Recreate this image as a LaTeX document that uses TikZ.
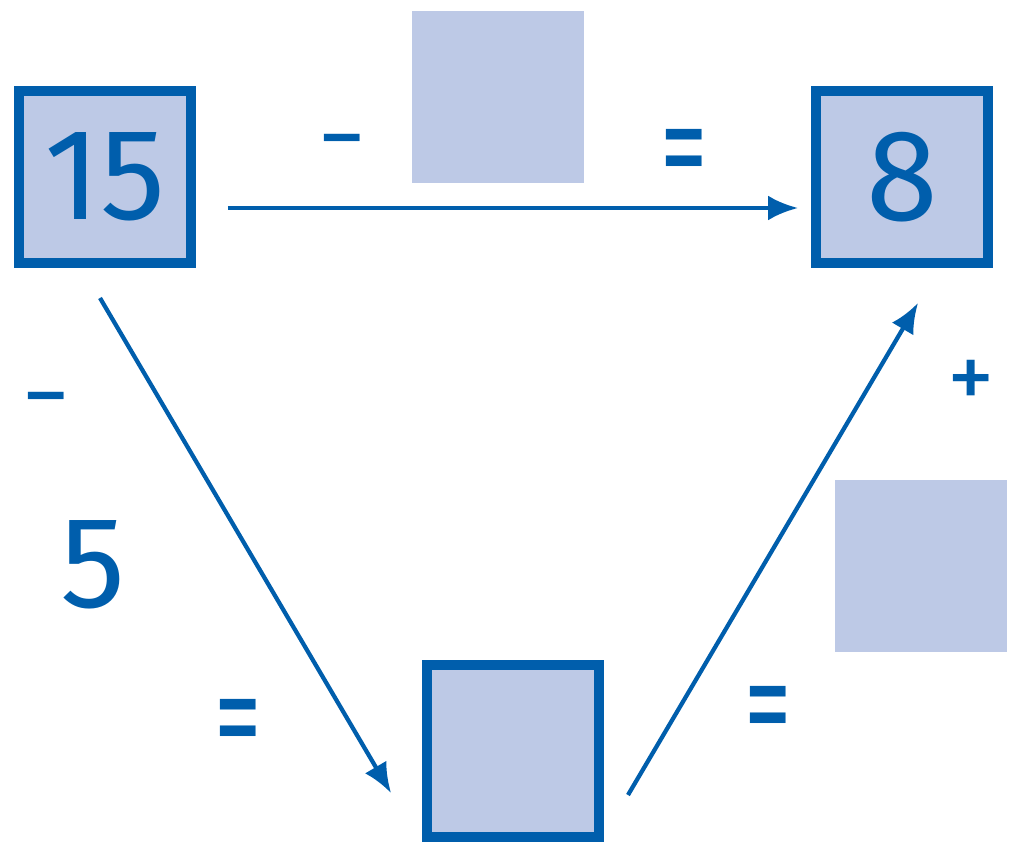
\documentclass[tikz,border=0pt]{standalone}
\usepackage{fontspec}
\setmainfont{Fira Sans}
\usepackage{xcolor}
\usepackage{graphicx}
\usetikzlibrary{arrows.meta}
\definecolor{strokeblue}{RGB}{0,94,172}
\definecolor{fillblue}{RGB}{189,201,230}
\newcommand{\talleq}{\scalebox{1}[1.45]{=}}
\tikzset{
blueboxv1/.style={rectangle, draw=strokeblue,fill=fillblue,line width=0.2cm, inner sep=0pt, minimum size= 3.44cm, text=strokeblue, font=\fontsize{74}{74}\selectfont},
fillboxv1/.style={rectangle, draw=none,fill=fillblue, inner sep=0pt, minimum size= 3.46cm},
signnodev1/.style={inner sep=0pt, text=strokeblue, font=\fontsize{54}{54}\selectfont},
numnodev1/.style={inner sep=0pt, text=strokeblue, font=\fontsize{74}{74}\selectfont},
arrowv1/.style={strokeblue, line width=0.085cm, -{Latex[length=0.6cm,width=0.5cm]}},
}
\begin{document}
\begin{tikzpicture}[x=0.02cm,y=-0.02cm]
\useasboundingbox (0,0) rectangle (1010,848);
\node[blueboxv1] at (105,177) (n15) {15};
\node[blueboxv1] at (902,177) (n8) {8};
\node[blueboxv1] at (513,751) (nmid) {};
\node[fillboxv1] at (498,97) (ftop) {};
\node[fillboxv1] at (921,566) (fright) {};
\node[signnodev1] at (342,152) (minustop) {−};
\node[signnodev1] at (684,161) (eqtop) {\talleq};
\node[signnodev1] at (46,410) (minusleft) {−};
\node[numnodev1] at (93,565) (five) {5};
\node[signnodev1] at (238,731) (eqleft) {\talleq};
\node[signnodev1] at (768,718) (eqright) {\talleq};
\node[signnodev1] at (971,385) (plusright) {+};
\coordinate (a1) at ([shift={(32,31)}]n15.east);
\coordinate (a2) at ([shift={(-13,31)}]n8.west);
\coordinate (b1) at ([shift={(-5,30)}]n15.south);
\coordinate (b2) at ([shift={(-31,42)}]nmid.west);
\coordinate (c1) at ([shift={(24,44)}]nmid.east);
\coordinate (c2) at ([shift={(16,35)}]n8.south);
\draw[arrowv1] (a1) -- (a2);
\draw[arrowv1] (b1) -- (b2);
\draw[arrowv1] (c1) -- (c2);
\end{tikzpicture}
\end{document}
